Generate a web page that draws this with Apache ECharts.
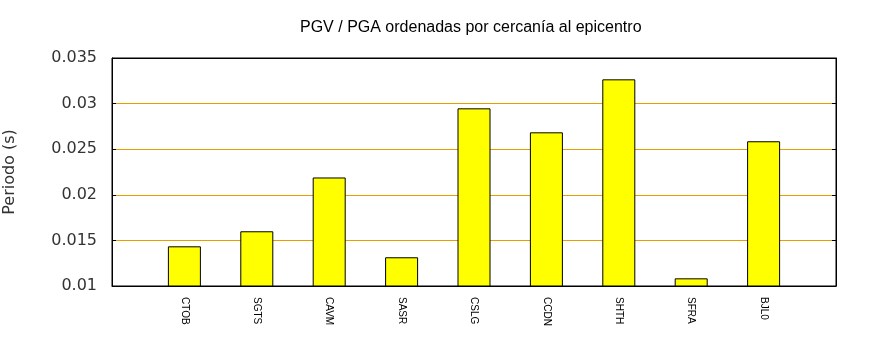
<!DOCTYPE html>
<html><head><meta charset="utf-8">
<script src="https://cdn.jsdelivr.net/npm/echarts@6/dist/echarts.min.js"></script>
<style>html,body{margin:0;padding:0;background:#fff}#c{width:870px;height:350px}</style>
</head><body><div id="c"></div>
<script>
var categories = ['', 'CTOB', 'SGTS', 'CAVM', 'SASR', 'CSLG', 'CCDN', 'SHTH', 'SFRA', 'BJL0', ''];
var values = [null, 0.01435, 0.0160, 0.0219, 0.01315, 0.02948, 0.02685, 0.03266, 0.01084, 0.02587, null];
var yTicks = [0.01, 0.015, 0.02, 0.025, 0.03, 0.035];

var chart = echarts.init(document.getElementById('c'), null, {renderer: 'canvas'});
var fmt = function (v) { return String(+v.toFixed(3)); };
chart.setOption({
  animation: false,
  backgroundColor: '#fff',
  title: {
    text: 'PGV / PGA ordenadas por cercanía al epicentro',
    left: 295, top: 15,
    textStyle: {fontFamily: 'Liberation Sans', fontSize: 16, fontWeight: 'normal', color: '#000'}
  },
  grid: {left: 112, right: 34, top: 58, bottom: 64, outerBoundsMode: 'none', containLabel: false,
         show: true, borderColor: '#000', borderWidth: 1, backgroundColor: 'transparent'},
  xAxis: {
    type: 'category', data: categories, boundaryGap: false,
    axisLine: {lineStyle: {color: '#000', width: 1}},
    axisTick: {show: false},
    splitLine: {show: false},
    axisLabel: {rotate: -90, margin: 11, interval: 0, fontFamily: 'Liberation Sans', fontSize: 10, color: '#000'}
  },
  yAxis: [{
    type: 'value', min: yTicks[0], max: yTicks[yTicks.length - 1], interval: 0.005,
    name: 'Periodo (s)', nameLocation: 'middle', nameGap: 94, nameRotate: 90,
    nameTextStyle: {fontFamily: 'DejaVu Sans', fontSize: 16, color: '#333'},
    axisLine: {show: true, lineStyle: {color: '#000', width: 1}},
    axisTick: {show: true, inside: true, length: 4, lineStyle: {color: '#000'}},
    axisLabel: {margin: 15, fontFamily: 'DejaVu Sans', fontSize: 16, color: '#333', formatter: fmt},
    splitLine: {show: true, lineStyle: {color: ['#000', '#e5a000', '#e5a000', '#e5a000', '#e5a000', '#000'], width: 1}}
  }, {
    type: 'value', min: yTicks[0], max: yTicks[yTicks.length - 1], interval: 0.005, position: 'right',
    axisLine: {show: true, lineStyle: {color: '#000', width: 1}},
    axisTick: {show: true, inside: true, length: 4, lineStyle: {color: '#000'}},
    axisLabel: {show: false},
    splitLine: {show: false}
  }],
  series: [{
    type: 'bar', data: values, barWidth: 33, yAxisIndex: 0,
    itemStyle: {color: '#ffff00', borderColor: '#000', borderWidth: 1}
  }]
});
</script></body></html>
